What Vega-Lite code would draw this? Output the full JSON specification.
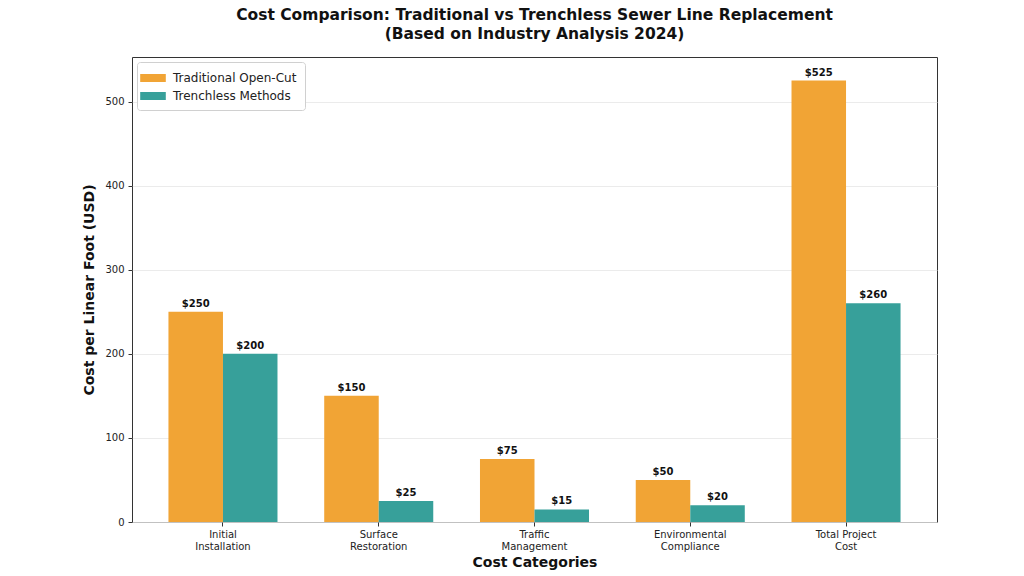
{
  "$schema": "https://vega.github.io/schema/vega-lite/v6.json",
  "width": 805,
  "height": 465,
  "autosize": {"type": "none"},
  "padding": {"left": 132, "top": 57, "right": 87, "bottom": 54},
  "background": "white",
  "config": {
    "font": "DejaVu Sans",
    "view": {"stroke": "#333333", "strokeWidth": 1},
    "axis": {"labelFont": "DejaVu Sans", "titleFont": "DejaVu Sans", "labelColor": "#222", "titleColor": "#111", "domainColor": "#333", "tickColor": "#333"}
  },
  "title": {
    "text": ["Cost Comparison: Traditional vs Trenchless Sewer Line Replacement", "(Based on Industry Analysis 2024)"],
    "font": "DejaVu Sans",
    "fontSize": 15.5,
    "fontWeight": "bold",
    "lineHeight": 19,
    "anchor": "middle",
    "offset": 15,
    "color": "#111"
  },
  "data": {
    "values": [
      {"category": "Initial\nInstallation", "series": "Traditional Open-Cut", "cost": 250},
      {"category": "Initial\nInstallation", "series": "Trenchless Methods", "cost": 200},
      {"category": "Surface\nRestoration", "series": "Traditional Open-Cut", "cost": 150},
      {"category": "Surface\nRestoration", "series": "Trenchless Methods", "cost": 25},
      {"category": "Traffic\nManagement", "series": "Traditional Open-Cut", "cost": 75},
      {"category": "Traffic\nManagement", "series": "Trenchless Methods", "cost": 15},
      {"category": "Environmental\nCompliance", "series": "Traditional Open-Cut", "cost": 50},
      {"category": "Environmental\nCompliance", "series": "Trenchless Methods", "cost": 20},
      {"category": "Total Project\nCost", "series": "Traditional Open-Cut", "cost": 525},
      {"category": "Total Project\nCost", "series": "Trenchless Methods", "cost": 260}
    ]
  },
  "encoding": {
    "x": {
      "field": "category",
      "type": "nominal",
      "sort": null,
      "scale": {"paddingInner": 0.3, "paddingOuter": 0.234},
      "axis": {
        "title": "Cost Categories",
        "titleFontSize": 14,
        "titleFontWeight": "bold",
        "titlePadding": 4,
        "labelAngle": 0,
        "labelFontSize": 10,
        "labelExpr": "split(datum.label, '\\n')",
        "labelLineHeight": 12,
        "labelPadding": 3,
        "tickSize": 4,
        "domain": false
      }
    },
    "xOffset": {"field": "series", "type": "nominal", "sort": ["Traditional Open-Cut", "Trenchless Methods"]},
    "y": {
      "field": "cost",
      "type": "quantitative",
      "scale": {"domain": [0, 553], "nice": false},
      "axis": {
        "title": "Cost per Linear Foot (USD)",
        "titleFontSize": 14,
        "titleFontWeight": "bold",
        "titlePadding": 8,
        "labelFontSize": 10,
        "labelPadding": 4,
        "values": [0, 100, 200, 300, 400, 500],
        "tickSize": 4,
        "gridColor": "#e6e6e6",
        "gridWidth": 0.8,
        "domain": false
      }
    }
  },
  "layer": [
    {
      "mark": {"type": "bar"},
      "encoding": {
        "color": {
          "field": "series",
          "type": "nominal",
          "sort": ["Traditional Open-Cut", "Trenchless Methods"],
          "scale": {"range": ["#F1A435", "#37A09A"]},
          "legend": {
            "title": null,
            "orient": "top-left",
            "offset": 5,
            "labelFontSize": 12,
            "labelFont": "DejaVu Sans",
            "labelColor": "#222",
            "labelOffset": 12,
            "symbolType": "M-1.6,-0.5L1.6,-0.5L1.6,0.5L-1.6,0.5Z",
            "symbolSize": 256,
            "symbolStrokeWidth": 0,
            "rowPadding": 4,
            "padding": 8,
            "strokeColor": "#d0d0d0",
            "fillColor": "white",
            "cornerRadius": 3
          }
        }
      }
    },
    {
      "mark": {"type": "text", "baseline": "bottom", "dy": -3, "fontSize": 10, "fontWeight": "bold", "color": "#111"},
      "encoding": {
        "text": {"field": "cost", "type": "quantitative", "format": "$,.0f"}
      }
    }
  ]
}
